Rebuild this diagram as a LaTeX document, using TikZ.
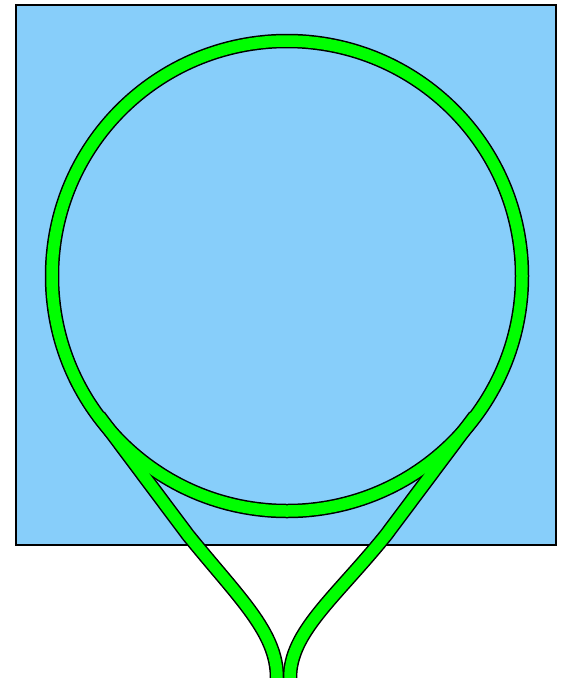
\documentclass[tikz,border=0pt]{standalone}
\definecolor{skyfill}{RGB}{135,206,250}
\definecolor{trackgreen}{RGB}{0,255,0}
\tikzset{
  trackedge/.style={draw=black, line width=14.5pt},
  trackfill/.style={draw=trackgreen, line width=11.5pt},
}
\begin{document}
\begin{tikzpicture}[x=1pt,y=-1pt]
\useasboundingbox (0,0) rectangle (564,678);
\fill[white] (0,0) rectangle (564,678);
\draw[fill=skyfill, draw=black, line width=1.3pt] (16,5) rectangle (556,545);
\coordinate (c) at (287,276);
\coordinate (lt) at (99,416);
\coordinate (lb) at (188,535);
\coordinate (rt) at (475,416);
\coordinate (rb) at (386,535);
\coordinate (lend) at (277,678);
\coordinate (rend) at (290,678);
\foreach \s in {trackedge,trackfill}{
  \draw[\s] (c) circle[radius=235];
  \draw[\s] (lt) -- (lb) .. controls (239,598) and (277,632) .. (lend) -- ++(0,12);
  \draw[\s] (rt) -- (rb) .. controls (335,598) and (290,632) .. (rend) -- ++(0,12);
}
\end{tikzpicture}
\end{document}
